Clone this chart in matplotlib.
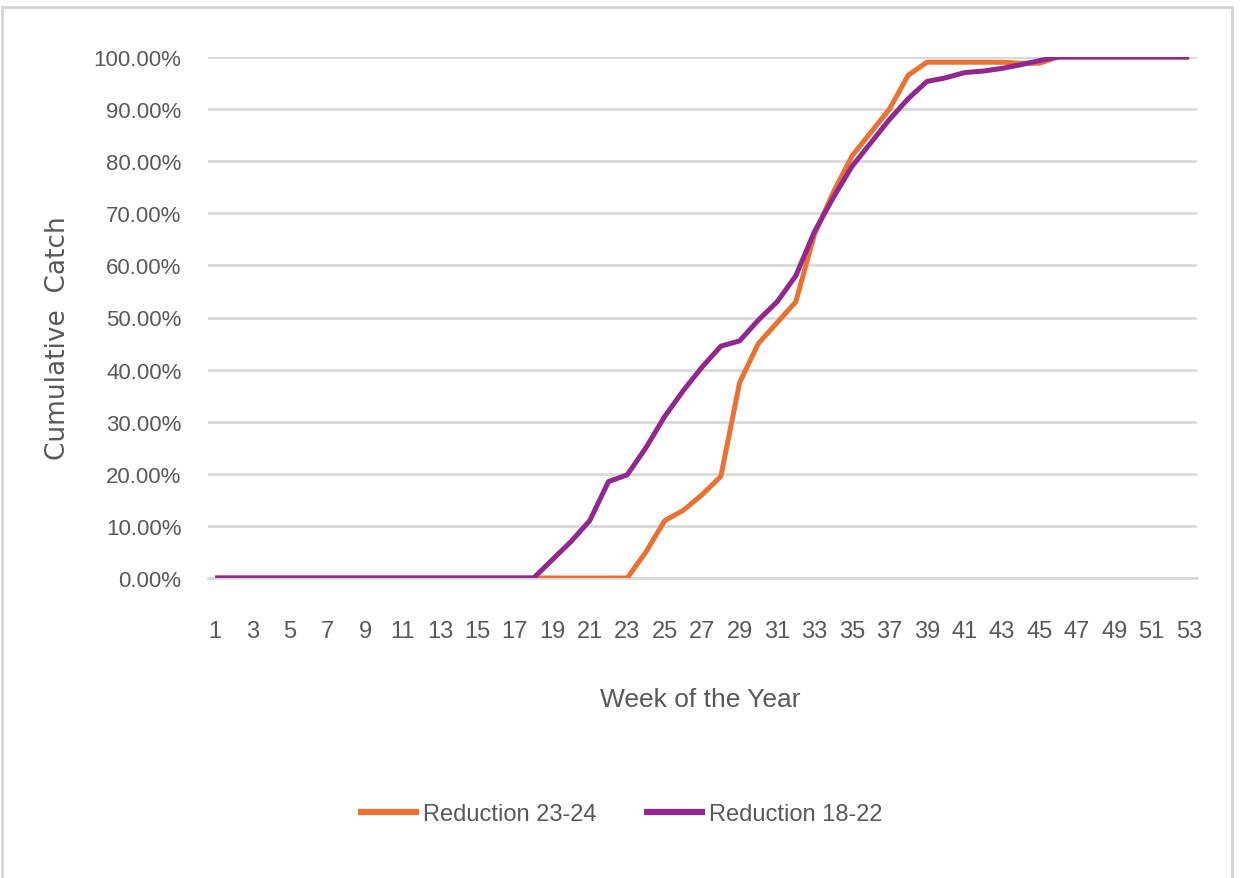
import matplotlib
matplotlib.use("Agg")
import matplotlib.pyplot as plt
from matplotlib import font_manager
from matplotlib.patches import Rectangle
from matplotlib.ticker import FuncFormatter

# Weekly cumulative catch (% of season total)
weeks = list(range(1, 54))
reduction_23_24 = [0] * 23 + [
    5, 11, 13, 16, 19.5, 37.5, 45, 49, 53, 66, 74, 81, 85.5, 90, 96.5,
    99, 99, 99, 99, 99, 98.8, 98.8, 100, 100, 100, 100, 100, 100, 100, 100,
]
reduction_18_22 = [0] * 18 + [
    3.5, 7, 11, 18.5, 19.8, 25, 31, 36, 40.5, 44.5, 45.5, 49.5, 53, 58,
    66.5, 73, 79, 83.5, 88, 92, 95.3, 96, 97, 97.3, 97.8, 98.5, 99.3,
    100, 100, 100, 100, 100, 100, 100, 100,
]
series_names = ["Reduction 23-24", "Reduction 18-22"]
series_colors = ["#E97132", "#92278F"]
x_tick_weeks = list(range(1, 54, 2))
y_ticks = list(range(0, 101, 10))

available = {f.name for f in font_manager.fontManager.ttflist}
narrow = "Liberation Sans Narrow" if "Liberation Sans Narrow" in available else "Liberation Sans"
text_color = "#595959"

fig = plt.figure(figsize=(12.41, 8.79), dpi=100)
fig.patch.set_facecolor("white")

# outer chart-area border
fig.patches.append(Rectangle((2 / 1241, -0.01), 1230 / 1241, 1 - 8 / 879 + 0.01,
                             transform=fig.transFigure, fill=False,
                             edgecolor="#D4D4D4", linewidth=2.0))

ax = fig.add_axes([208 / 1241, 1 - 579 / 879, (1197 - 208) / 1241, (579 - 58) / 879])
ax.set_facecolor("white")

for vals, name, col in zip([reduction_23_24, reduction_18_22], series_names, series_colors):
    ax.plot(weeks, vals, color=col, linewidth=3.6, label=name,
            solid_joinstyle="round", solid_capstyle="butt", zorder=3)

ax.set_ylim(0, 100)
ax.set_xlim(0.62, 53.42)
ax.set_yticks(y_ticks)
ax.yaxis.set_major_formatter(FuncFormatter(lambda v, p: f"{v:.2f}%"))
ax.set_xticks(x_tick_weeks)
ax.set_xticklabels([str(w) for w in x_tick_weeks])

ax.grid(axis="y", color="#D9D9D9", linewidth=2.0, zorder=0)
ax.grid(axis="x", visible=False)
for s in ["top", "right", "left"]:
    ax.spines[s].set_visible(False)
ax.spines["bottom"].set_color("#D9D9D9")
ax.spines["bottom"].set_linewidth(2.0)
ax.spines["bottom"].set_zorder(0)

ax.tick_params(axis="both", length=0, colors=text_color)
ax.tick_params(axis="y", pad=19)
ax.tick_params(axis="x", pad=30)
for lbl in ax.get_yticklabels():
    lbl.set_fontfamily(narrow)
    lbl.set_fontsize(16)
    lbl.set_color(text_color)
for lbl in ax.get_xticklabels():
    lbl.set_fontfamily(narrow)
    lbl.set_fontsize(17)
    lbl.set_color(text_color)

fig.text(58 / 1241, 1 - 338 / 879, "Cumulative  Catch", rotation=90,
         ha="center", va="center", fontsize=19, color=text_color,
         family="DejaVu Sans")
fig.text(700 / 1241, 1 - 700 / 879, "Week of the Year", ha="center", va="center",
         fontsize=19, color=text_color, family=narrow)

leg = fig.legend(loc="center", bbox_to_anchor=(620 / 1241, 1 - 815 / 879), ncol=2,
                 frameon=False, prop={"family": narrow, "size": 17},
                 handlelength=2.6, handletextpad=0.15, columnspacing=2.0)
for t in leg.get_texts():
    t.set_color(text_color)
for h in leg.get_lines():
    h.set_linewidth(4.5)

fig.savefig("out.png", dpi=100, facecolor="white")
